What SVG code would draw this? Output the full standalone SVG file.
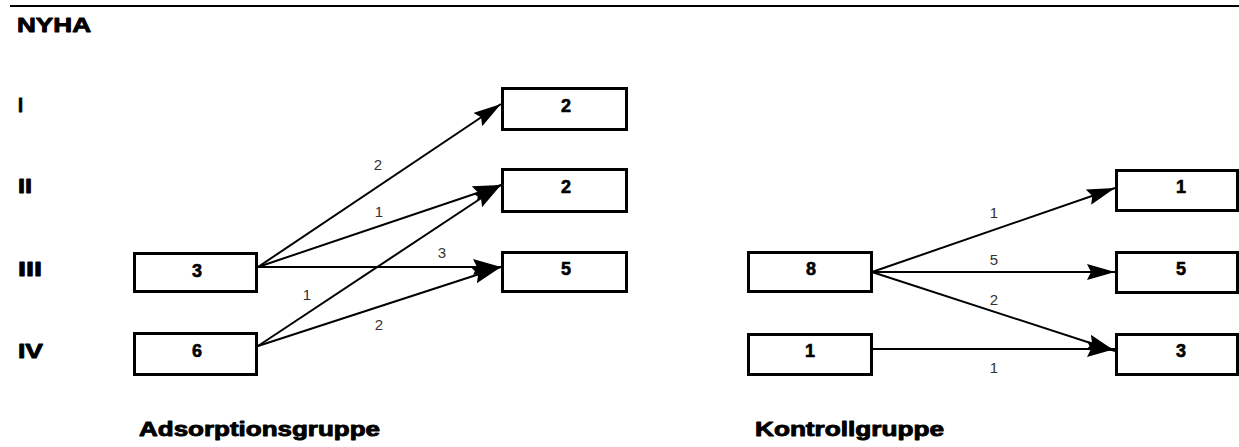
<svg xmlns="http://www.w3.org/2000/svg" width="1239" height="447" viewBox="0 0 1239 447">
<style>
.box{fill:#fff;stroke:#000;stroke-width:3}
.hd{font-family:"Liberation Sans",Arial,sans-serif;font-weight:bold;fill:#000;stroke:#000;stroke-width:0.9;stroke-linejoin:round}
.bt{font-family:"Liberation Sans",Arial,sans-serif;font-weight:bold;font-size:18px;fill:#000;stroke:#000;stroke-width:0.6;text-anchor:middle}
.el{font-family:"Liberation Sans",Arial,sans-serif;font-size:15px;fill:#333;text-anchor:middle}
.ar{stroke:#000;stroke-width:2;fill:none;marker-end:url(#ah)}
</style>
<defs>
<marker id="ah" markerUnits="userSpaceOnUse" viewBox="0 0 28 16" refX="28" refY="8" markerWidth="28" markerHeight="16" orient="auto">
<path d="M0,0 L28,8 L0,16 L4,8 z" fill="#000"/>
</marker>
</defs>
<rect width="1239" height="447" fill="#fff"/>
<line x1="10" y1="6" x2="1239" y2="6" stroke="#000" stroke-width="2"/>
<g id="labels">
<text class="hd" x="17" y="32" font-size="21" textLength="74" lengthAdjust="spacingAndGlyphs">NYHA</text>
<text class="hd" x="18" y="112" font-size="21" textLength="5" lengthAdjust="spacingAndGlyphs">I</text>
<text class="hd" x="18" y="193" font-size="21" textLength="14" lengthAdjust="spacingAndGlyphs">II</text>
<text class="hd" x="18" y="276" font-size="21" textLength="24" lengthAdjust="spacingAndGlyphs">III</text>
<text class="hd" x="18" y="358" font-size="21" textLength="25" lengthAdjust="spacingAndGlyphs">IV</text>
<text class="hd" x="139" y="436" font-size="20" textLength="241" lengthAdjust="spacingAndGlyphs">Adsorptionsgruppe</text>
<text class="hd" x="755" y="436" font-size="20" textLength="189" lengthAdjust="spacingAndGlyphs">Kontrollgruppe</text>
</g>
<g id="connectors">
<line class="ar" x1="258" y1="267" x2="501" y2="104"/>
<line class="ar" x1="258" y1="267" x2="501" y2="185"/>
<line class="ar" x1="258" y1="267" x2="501" y2="267"/>
<line class="ar" x1="258" y1="346" x2="501" y2="185"/>
<line class="ar" x1="258" y1="346" x2="501" y2="267"/>
<line class="ar" x1="872" y1="272" x2="1115" y2="188"/>
<line class="ar" x1="872" y1="272" x2="1115" y2="272"/>
<line class="ar" x1="872" y1="272" x2="1115" y2="351"/>
<line class="ar" x1="872" y1="349" x2="1115" y2="349"/>
<text class="el" x="378" y="170">2</text>
<text class="el" x="379" y="217">1</text>
<text class="el" x="442" y="258">3</text>
<text class="el" x="307" y="300">1</text>
<text class="el" x="379" y="330">2</text>
<text class="el" x="994" y="218">1</text>
<text class="el" x="994" y="265">5</text>
<text class="el" x="994" y="305">2</text>
<text class="el" x="994" y="373">1</text>
</g>
<g id="a-left-III"><rect class="box" x="134.5" y="253.5" width="122" height="38"/><text class="bt" x="197" y="277">3</text></g>
<g id="a-left-IV"><rect class="box" x="134.5" y="333.5" width="122" height="41"/><text class="bt" x="197" y="357">6</text></g>
<g id="a-right-I"><rect class="box" x="502.5" y="88.5" width="124" height="41"/><text class="bt" x="566" y="112">2</text></g>
<g id="a-right-II"><rect class="box" x="502.5" y="169.5" width="124" height="42"/><text class="bt" x="566" y="193">2</text></g>
<g id="a-right-III"><rect class="box" x="502.5" y="252.5" width="124" height="39"/><text class="bt" x="566" y="275">5</text></g>
<g id="k-left-III"><rect class="box" x="748.5" y="252.5" width="123" height="39"/><text class="bt" x="811" y="275">8</text></g>
<g id="k-left-IV"><rect class="box" x="748.5" y="334.5" width="123" height="40"/><text class="bt" x="810" y="357">1</text></g>
<g id="k-right-II"><rect class="box" x="1116.5" y="170.5" width="121" height="40"/><text class="bt" x="1181" y="193">1</text></g>
<g id="k-right-III"><rect class="box" x="1116.5" y="252.5" width="121" height="40"/><text class="bt" x="1181" y="275">5</text></g>
<g id="k-right-IV"><rect class="box" x="1116.5" y="334.5" width="121" height="40"/><text class="bt" x="1181" y="357">3</text></g>
</svg>
